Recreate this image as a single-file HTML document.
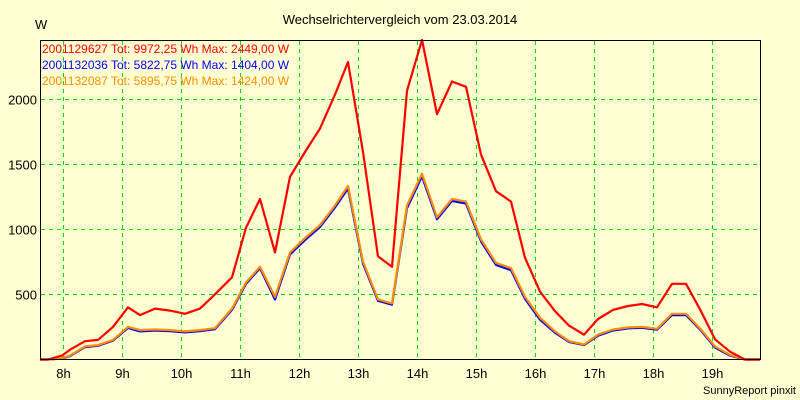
<!DOCTYPE html>
<html><head><meta charset="utf-8"><style>
body{margin:0;background:#ffffd2;}
svg{display:block;font-family:"Liberation Sans",sans-serif;}
</style></head><body>
<svg id="c" width="800" height="400">
<rect width="800" height="400" fill="#ffffd2"/>
<text x="400" y="24" font-size="13" text-anchor="middle">Wechselrichtervergleich vom 23.03.2014</text>
<text x="35" y="29" font-size="13">W</text>
<g id="grid"></g><g id="series"></g>
<rect x="40.5" y="40.5" width="720" height="319" fill="none" stroke="#000"/>
<text x="42" y="53" font-size="12" fill="#ff0000">2001129627 Tot: 9972,25 Wh Max: 2449,00 W</text>
<text x="42" y="69" font-size="12" fill="#0000ff">2001132036 Tot: 5822,75 Wh Max: 1404,00 W</text>
<text x="42" y="85" font-size="12" fill="#ff8c00">2001132087 Tot: 5895,75 Wh Max: 1424,00 W</text>
<text x="796" y="394" font-size="11" text-anchor="end">SunnyReport pinxit</text>
</svg>
<script>
const xTicks=[8,9,10,11,12,13,14,15,16,17,18,19];
const yTicks=[500,1000,1500,2000];
const xPix=[40,48,62,70,85,98,113,128,140,155,170,185,200,215,232,246,260,275,290,305,320,335,348,363,378,392,407,422,437,452,466,481,496,511,525,540,555,569,584,598,613,628,642,657,672,686,701,715,730,745,760];
const times=xPix.map(p=>8+(p-62.5)/59);
const red=[0,0,30,75,140,150,250,400,340,390,375,350,390,500,630,1010,1230,820,1400,1590,1770,2030,2280,1590,790,710,2060,2449,1880,2130,2090,1570,1290,1210,780,520,370,260,190,310,380,410,425,400,580,580,370,155,60,0,0];
const orange=[0,0,10,30,100,110,150,250,225,230,225,215,225,240,390,590,710,480,820,930,1030,1180,1330,750,460,430,1180,1424,1090,1230,1210,920,740,700,480,320,215,140,115,190,230,245,250,235,350,350,230,100,35,0,0];
const blue=[0,0,8,26,95,105,145,242,215,222,218,208,218,232,380,580,700,460,805,915,1015,1165,1310,735,450,420,1160,1404,1075,1215,1195,905,725,685,465,305,205,135,110,182,222,238,243,228,340,340,222,92,30,0,0];
const X=t=>62.5+(t-8)*59;
const Y=v=>359.5-v*0.1305;
const NS="http://www.w3.org/2000/svg";
const g=document.getElementById('grid'), s=document.getElementById('series');
function mk(tag,attrs,par){const e=document.createElementNS(NS,tag);for(const k in attrs)e.setAttribute(k,attrs[k]);par.appendChild(e);return e;}
xTicks.forEach(h=>{
  const x=Math.round(X(h))+0.5;
  const l=mk('line',{x1:x,x2:x,y1:41,y2:359,stroke:'#00e000','stroke-dasharray':'4,4'},g);
  
  
  const t=mk('text',{x:x,y:378,'font-size':13,'text-anchor':'middle'},g);
  t.textContent=h+'h';
  
  
});
yTicks.forEach(v=>{
  const y=Math.round(Y(v))+0.5;
  const l=mk('line',{x1:41,x2:760,y1:y,y2:y,stroke:'#00e000','stroke-dasharray':'4,4'},g);
  
  
  const t=mk('text',{x:37,y:y+5,'font-size':13,'text-anchor':'end'},g);
  t.textContent=v;
  
  
});
[[blue,'#0000ff','series-blue'],[orange,'#ff8c00','series-orange'],[red,'#ff0000','series-red']].forEach(([d,c,n])=>{
  const p=mk('polyline',{points:d.map((v,i)=>X(times[i]).toFixed(1)+','+Y(v).toFixed(1)).join(' '),fill:'none',stroke:c,'stroke-width':2.2,'stroke-linejoin':'round'},s);
  
  
});
</script>
</body></html>
